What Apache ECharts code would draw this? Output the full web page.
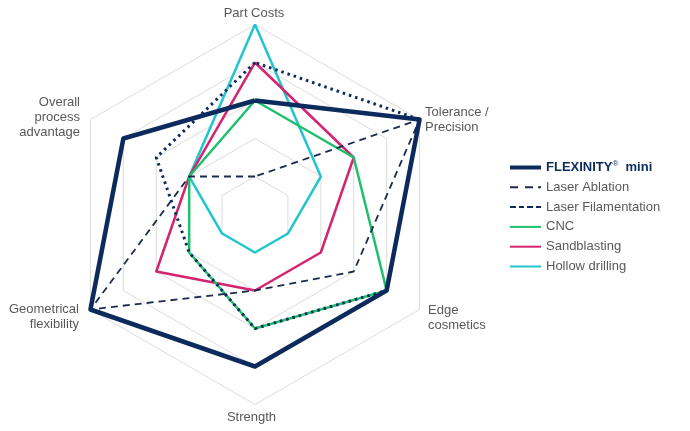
<!DOCTYPE html>
<html>
<head>
<meta charset="utf-8">
<script src="https://cdn.jsdelivr.net/npm/echarts@6/dist/echarts.min.js"></script>
<style>html,body{margin:0;padding:0;background:#fff}#c{width:690px;height:431px}</style>
</head>
<body>
<div id="c"></div>
<script>
// Indicators listed clockwise starting at the top
const indicators = ['Part Costs', 'Tolerance /\nPrecision', 'Edge\ncosmetics', 'Strength', 'Geometrical\nflexibility', 'Overall\nprocess\nadvantage'];
const maxValue = 5;
const flexinity = [3, 5, 4, 4, 5, 4];
const laserAblation = [1, 5, 3, 2, 5, 2];
const laserFilamentation = [4, 5, 4, 3, 2, 3];
const cnc = [3, 3, 4, 3, 2, 2];
const sandblasting = [4, 3, 2, 2, 3, 2];
const hollowDrilling = [5, 2, 1, 1, 1, 2];
const seriesNames = ['FLEXINITY mini', 'Laser Ablation', 'Laser Filamentation', 'CNC', 'Sandblasting', 'Hollow drilling'];

// ECharts radar runs counter-clockwise: reorder to get clockwise layout
const order = [0, 5, 4, 3, 2, 1];
const reorder = arr => order.map(i => arr[i]);

const NAVY = '#0c2b5c', DASH = '#1b2a4e', GREEN = '#1fc06c', MAGENTA = '#d4246f', CYAN = '#22c4cd';
const FONT = 'Liberation Sans, Arial';
const GREY = '#595959';

// label fine tuning: horizontal padding and vertical shift (px)
const labelTune = [
  {padL: 0, padR: 2, shift: 0},
  {padL: 2, padR: 0, shift: 2.5},
  {padL: 5, padR: 0, shift: 6},
  {padL: 0, padR: 7, shift: 0.8},
  {padL: 0, padR: 8, shift: 5.8},
  {padL: 0, padR: 7, shift: 0}
];
const rich = {};
labelTune.forEach((t, i) => {
  rich['n' + i] = {color: GREY, fontFamily: FONT, fontSize: 13, lineHeight: 15, padding: [0, t.padR, 0, t.padL],
                   align: t.padR ? 'right' : (t.padL ? 'left' : 'center')};
  rich['s' + i] = {fontSize: 1, lineHeight: Math.max(0.5, Math.abs(t.shift) * 2)};
});

const chart = echarts.init(document.getElementById('c'), null, {renderer: 'canvas'});
chart.setOption({
  animation: false,
  backgroundColor: '#fff',
  legend: {
    orient: 'vertical',
    left: 505,
    top: 155,
    itemWidth: 31,
    itemHeight: 14,
    itemGap: 6.8,
    itemStyle: {borderWidth: 0},
    formatter: function (name) {
      if (name === seriesNames[0]) return '{b|FLEXINITY}{s|®}{b|  mini}';
      return name;
    },
    textStyle: {
      fontFamily: FONT, fontSize: 13, color: GREY,
      rich: {
        b: {fontFamily: FONT, fontSize: 13, fontWeight: 'bold', color: NAVY},
        s: {fontFamily: FONT, fontSize: 8, color: NAVY, padding: [0, 0, 7, 0]}
      }
    },
    data: [
      {name: seriesNames[0], icon: 'path://M0,0h31v4h-31z'},
      {name: seriesNames[1], icon: 'path://M0,0h8v2h-8zM15,0h8v2h-8zM28,0h3v2h-3z'},
      {name: seriesNames[2], icon: 'path://M0,0h6v2h-6zM9,0h5v2h-5zM17,0h6v2h-6zM26,0h5v2h-5z'},
      {name: seriesNames[3], icon: 'path://M0,0h31v2h-31z'},
      {name: seriesNames[4], icon: 'path://M0,0h31v2h-31z'},
      {name: seriesNames[5], icon: 'path://M0,0h31v2h-31z'}
    ]
  },
  radar: {
    center: [255, 214.5],
    radius: 190,
    startAngle: 90,
    splitNumber: 5,
    shape: 'polygon',
    nameGap: 4,
    indicator: reorder(indicators).map(n => ({name: n, min: 0, max: maxValue})),
    axisName: {
      color: GREY,
      fontFamily: FONT,
      fontSize: 13,
      lineHeight: 15,
      formatter: function (v) {
        const i = indicators.indexOf(v);
        const t = labelTune[i];
        let s = v.split('\n').map(l => '{n' + i + '|' + l + '}').join('\n');
        if (t.shift > 0) s = '{s' + i + '| }\n' + s;
        else if (t.shift < 0) s = s + '\n{s' + i + '| }';
        return s;
      },
      rich: rich
    },
    axisLine: {show: false},
    axisTick: {show: false},
    axisLabel: {show: false},
    splitArea: {show: false},
    splitLine: {lineStyle: {color: '#dcdcdc', width: 1}}
  },
  series: [{
    type: 'radar',
    symbol: 'none',
    data: [
      {name: seriesNames[5], value: reorder(hollowDrilling), itemStyle: {color: CYAN}, lineStyle: {color: CYAN, width: 2.5}},
      {name: seriesNames[4], value: reorder(sandblasting), itemStyle: {color: MAGENTA}, lineStyle: {color: MAGENTA, width: 2.5}},
      {name: seriesNames[3], value: reorder(cnc), itemStyle: {color: GREEN}, lineStyle: {color: GREEN, width: 2.5}},
      {name: seriesNames[1], value: reorder(laserAblation), itemStyle: {color: DASH}, lineStyle: {color: DASH, width: 1.8, type: [7, 5]}},
      {name: seriesNames[2], value: reorder(laserFilamentation), itemStyle: {color: NAVY}, lineStyle: {color: NAVY, width: 3, type: [2.5, 4]}},
      {name: seriesNames[0], value: reorder(flexinity), itemStyle: {color: NAVY}, lineStyle: {color: NAVY, width: 4.5}}
    ]
  }]
});
</script>
</body>
</html>
